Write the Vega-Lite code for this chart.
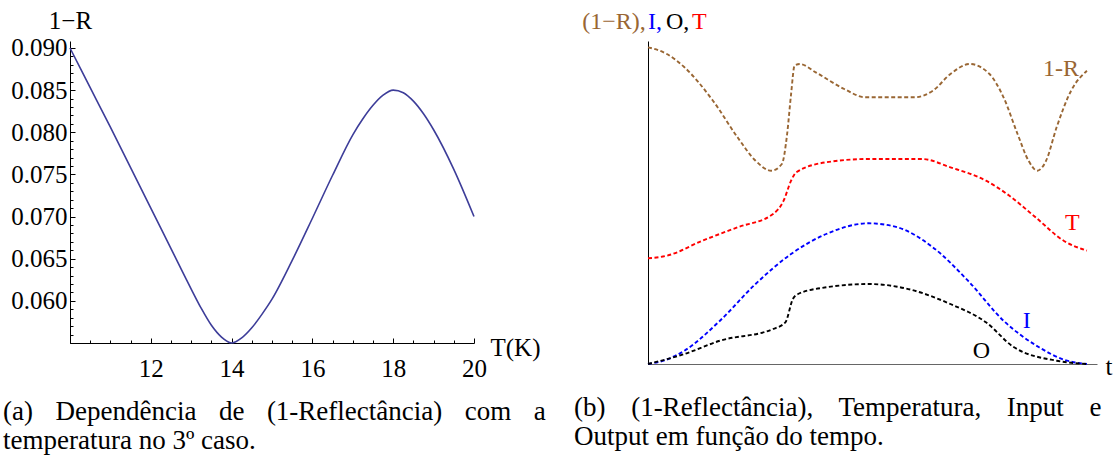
{
  "$schema": "https://vega.github.io/schema/vega-lite/v6.json",
  "padding": {"left": 3, "top": 8, "right": 2, "bottom": 2},
  "background": "white",
  "bounds": "flush",
  "spacing": 174,
  "config": {
    "view": {"stroke": null},
    "font": "Liberation Serif",
    "axis": {"labelFont": "Liberation Serif", "titleFont": "Liberation Serif", "titleFontWeight": "normal", "titleColor": "black", "labelColor": "black", "domainColor": "black", "tickColor": "black", "grid": false, "labelFlush": false, "labelOverlap": false}
  },
  "hconcat": [
    {
      "width": 404,
      "height": 302,
      "title": {"text": ["(a)\u2002\u200a Dependência\u2002\u200a de\u2002\u200a (1-Reflectância)\u2002\u200a com\u2002\u200a a", "temperatura no 3º caso."], "orient": "bottom", "anchor": "start", "frame": "group", "dx": -67, "offset": 16, "font": "Liberation Serif", "fontSize": 27, "fontWeight": "normal", "color": "black", "lineHeight": 29, "baseline": "top"},
      "data": {"values": [
        {"T": 10, "r": 0.0900}, {"T": 10.5, "r": 0.0853}, {"T": 11, "r": 0.0806}, {"T": 11.5, "r": 0.0758},
        {"T": 12, "r": 0.0710}, {"T": 12.5, "r": 0.0662}, {"T": 13, "r": 0.0614}, {"T": 13.25, "r": 0.0591},
        {"T": 13.5, "r": 0.0571}, {"T": 13.75, "r": 0.0557}, {"T": 14, "r": 0.0550}, {"T": 14.25, "r": 0.0556},
        {"T": 14.5, "r": 0.0568}, {"T": 14.75, "r": 0.0584}, {"T": 15, "r": 0.0602}, {"T": 15.5, "r": 0.0648},
        {"T": 16, "r": 0.0698}, {"T": 16.5, "r": 0.0749}, {"T": 17, "r": 0.0797}, {"T": 17.25, "r": 0.0816},
        {"T": 17.5, "r": 0.0832}, {"T": 17.75, "r": 0.0844}, {"T": 18, "r": 0.0850}, {"T": 18.25, "r": 0.0847},
        {"T": 18.5, "r": 0.0837}, {"T": 18.75, "r": 0.0822}, {"T": 19, "r": 0.0803}, {"T": 19.5, "r": 0.0756},
        {"T": 20, "r": 0.0700}
      ]},
      "mark": {"type": "line", "color": "#3d3d99", "strokeWidth": 1.6, "interpolate": "monotone"},
      "encoding": {
        "x": {"field": "T", "type": "quantitative", "scale": {"domain": [10, 20], "nice": false, "zero": false},
          "axis": {"values": [10, 10.5, 11, 11.5, 12, 12.5, 13, 13.5, 14, 14.5, 15, 15.5, 16, 16.5, 17, 17.5, 18, 18.5, 19, 19.5, 20],
            "labelExpr": "(datum.value % 2 == 0 && datum.value > 10) ? format(datum.value, 'd') : ''",
            "labelFontSize": 25, "labelPadding": 18,
            "tickSize": {"condition": {"test": "datum.value % 2 == 0", "value": -5}, "value": -3},
            "title": "T(K)", "titleFontSize": 25, "titleX": 420, "titleY": 12, "titleAlign": "left", "titleBaseline": "alphabetic", "titleAngle": 0}},
        "y": {"field": "r", "type": "quantitative", "scale": {"domain": [0.055, 0.09083], "nice": false, "zero": false},
          "axis": {"values": [0.055, 0.056, 0.057, 0.058, 0.059, 0.06, 0.061, 0.062, 0.063, 0.064, 0.065, 0.066, 0.067, 0.068, 0.069, 0.07, 0.071, 0.072, 0.073, 0.074, 0.075, 0.076, 0.077, 0.078, 0.079, 0.08, 0.081, 0.082, 0.083, 0.084, 0.085, 0.086, 0.087, 0.088, 0.089, 0.09],
            "labelExpr": "(round(datum.value*1000) % 5 == 0 && datum.value > 0.0575) ? format(datum.value, '.3f') : ''",
            "labelFontSize": 25, "labelPadding": 8, "labelBaseline": "middle",
            "tickSize": {"condition": {"test": "round(datum.value*1000) % 5 == 0", "value": -5}, "value": -3},
            "title": "1−R", "titleFontSize": 25, "titleAngle": 0, "titleX": 0, "titleY": -13, "titleAlign": "center", "titleBaseline": "alphabetic"}}
      }
    },
    {
      "width": 449,
      "height": 323,
      "title": {"text": ["(b)\u2002\u2009 (1-Reflectância),\u2002\u2009 Temperatura,\u2002\u2009 Input\u2002\u2009 e", "Output em função do tempo."], "orient": "bottom", "anchor": "start", "frame": "group", "dx": -74, "offset": 16, "font": "Liberation Serif", "fontSize": 27, "fontWeight": "normal", "color": "black", "lineHeight": 29, "baseline": "top"},
      "layer": [
        {
          "data": {"values": [
            {"s": "R", "t": 0, "v": 316.7}, {"s": "R", "t": 0.043, "v": 310}, {"s": "R", "t": 0.083, "v": 296.7}, {"s": "R", "t": 0.148, "v": 263.3},
            {"s": "R", "t": 0.204, "v": 226.7}, {"s": "R", "t": 0.245, "v": 203.3}, {"s": "R", "t": 0.281, "v": 193.3}, {"s": "R", "t": 0.305, "v": 200},
            {"s": "R", "t": 0.317, "v": 230}, {"s": "R", "t": 0.326, "v": 270}, {"s": "R", "t": 0.334, "v": 298.3}, {"s": "R", "t": 0.346, "v": 300},
            {"s": "R", "t": 0.382, "v": 291.7}, {"s": "R", "t": 0.447, "v": 275}, {"s": "R", "t": 0.495, "v": 266.7}, {"s": "R", "t": 0.608, "v": 266.7},
            {"s": "R", "t": 0.649, "v": 273.3}, {"s": "R", "t": 0.689, "v": 290}, {"s": "R", "t": 0.733, "v": 300}, {"s": "R", "t": 0.778, "v": 290},
            {"s": "R", "t": 0.810, "v": 266.7}, {"s": "R", "t": 0.842, "v": 230}, {"s": "R", "t": 0.867, "v": 203.3}, {"s": "R", "t": 0.887, "v": 193.3},
            {"s": "R", "t": 0.907, "v": 203.3}, {"s": "R", "t": 0.931, "v": 236.7}, {"s": "R", "t": 0.964, "v": 273.3}, {"s": "R", "t": 1, "v": 293.3},
            {"s": "T", "t": 0, "v": 105.7}, {"s": "T", "t": 0.043, "v": 108.3}, {"s": "T", "t": 0.124, "v": 123.3}, {"s": "T", "t": 0.204, "v": 136.7},
            {"s": "T", "t": 0.285, "v": 150}, {"s": "T", "t": 0.309, "v": 163.3}, {"s": "T", "t": 0.326, "v": 183.3}, {"s": "T", "t": 0.338, "v": 191.7},
            {"s": "T", "t": 0.406, "v": 201.7}, {"s": "T", "t": 0.503, "v": 205}, {"s": "T", "t": 0.624, "v": 205}, {"s": "T", "t": 0.689, "v": 196.7},
            {"s": "T", "t": 0.770, "v": 183.3}, {"s": "T", "t": 0.818, "v": 170}, {"s": "T", "t": 0.883, "v": 146.7}, {"s": "T", "t": 0.947, "v": 123.3},
            {"s": "T", "t": 1, "v": 113.3},
            {"s": "I", "t": 0, "v": 0}, {"s": "I", "t": 0.04, "v": 4}, {"s": "I", "t": 0.083, "v": 13.3}, {"s": "I", "t": 0.164, "v": 43.3},
            {"s": "I", "t": 0.245, "v": 80}, {"s": "I", "t": 0.326, "v": 110}, {"s": "I", "t": 0.406, "v": 130}, {"s": "I", "t": 0.503, "v": 140.7},
            {"s": "I", "t": 0.568, "v": 136.7}, {"s": "I", "t": 0.649, "v": 116.7}, {"s": "I", "t": 0.729, "v": 83.3}, {"s": "I", "t": 0.810, "v": 43.3},
            {"s": "I", "t": 0.891, "v": 16.7}, {"s": "I", "t": 0.95, "v": 4}, {"s": "I", "t": 1, "v": 0},
            {"s": "O", "t": 0, "v": 0}, {"s": "O", "t": 0.083, "v": 10}, {"s": "O", "t": 0.164, "v": 23.3}, {"s": "O", "t": 0.285, "v": 35},
            {"s": "O", "t": 0.313, "v": 41.7}, {"s": "O", "t": 0.330, "v": 65}, {"s": "O", "t": 0.342, "v": 70}, {"s": "O", "t": 0.406, "v": 76.7},
            {"s": "O", "t": 0.503, "v": 80}, {"s": "O", "t": 0.568, "v": 77.3}, {"s": "O", "t": 0.689, "v": 60}, {"s": "O", "t": 0.770, "v": 41.7},
            {"s": "O", "t": 0.834, "v": 16.7}, {"s": "O", "t": 0.931, "v": 3.3}, {"s": "O", "t": 1, "v": 0}
          ]},
          "mark": {"type": "line", "strokeWidth": 1.9, "strokeDash": [4, 2.5], "interpolate": "monotone"},
          "encoding": {
            "x": {"field": "t", "type": "quantitative", "scale": {"domain": [0, 1.023], "nice": false, "zero": false},
              "axis": {"ticks": false, "labels": false, "domainColor": "#666666", "title": "t", "titleFontSize": 25, "titleX": 457, "titleY": 10, "titleAlign": "left", "titleBaseline": "alphabetic", "titleAngle": 0}},
            "y": {"field": "v", "type": "quantitative", "scale": {"domain": [0, 323], "nice": false, "zero": false},
              "axis": {"ticks": false, "labels": false, "domainColor": "black", "title": null}},
            "color": {"field": "s", "type": "nominal", "scale": {"domain": ["R", "T", "I", "O"], "range": ["#996633", "#ff0000", "#0000ff", "#000000"]}, "legend": null},
            "detail": {"field": "s"}
          }
        },
        {
          "data": {"values": [
            {"t": -0.150, "v": 335, "txt": "(1−R),", "s": "R"},
            {"t": 0.0, "v": 335, "txt": "I,", "s": "I"},
            {"t": 0.041, "v": 335, "txt": "O,", "s": "O"},
            {"t": 0.100, "v": 335, "txt": "T", "s": "T"},
            {"t": 0.900, "v": 288, "txt": "1-R", "s": "R"},
            {"t": 0.950, "v": 134, "txt": "T", "s": "T"},
            {"t": 0.854, "v": 36, "txt": "I", "s": "I"},
            {"t": 0.740, "v": 6, "txt": "O", "s": "O"}
          ]},
          "mark": {"type": "text", "align": "left", "baseline": "alphabetic", "font": "Liberation Serif", "fontSize": 24},
          "encoding": {
            "x": {"field": "t", "type": "quantitative"},
            "y": {"field": "v", "type": "quantitative"},
            "text": {"field": "txt"},
            "color": {"field": "s", "type": "nominal", "legend": null}
          }
        }
      ]
    }
  ]
}
